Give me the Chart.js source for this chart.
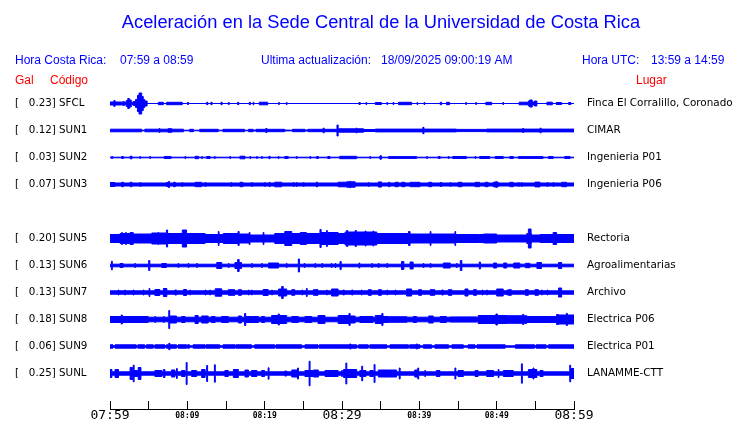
<!DOCTYPE html>
<html><head><meta charset="utf-8">
<script src="https://cdn.jsdelivr.net/npm/chart.js@4.4.1/dist/chart.umd.min.js"></script>
<style>html,body{margin:0;padding:0;background:#fff}canvas{display:block}</style>
</head><body><canvas id="c" width="740" height="423"></canvas>
<script>
// ---------- data ----------
const stations = ['SFCL','SUN1','SUN2','SUN3','SUN4','SUN5','SUN6','SUN7','SUN8','SUN9','SUNL'];
const peakGal  = ['0.23','0.12','0.03','0.07',null,'0.20','0.13','0.13','0.18','0.06','0.25'];
const places   = ['Finca El Corralillo, Coronado','CIMAR','Ingenieria P01','Ingenieria P06',null,
                  'Rectoria','Agroalimentarias','Archivo','Electrica P06','Electrica P01','LANAMME-CTT'];
const timeLabels = ['07:59','08:09','08:19','08:29','08:39','08:49','08:59']; // every 10 min
const headerTexts = {
  title: 'Aceleración en la Sede Central de la Universidad de Costa Rica',
  crLabel: 'Hora Costa Rica:', crRange: '07:59 a 08:59',
  updLabel: 'Ultima actualización:', updValue: '18/09/2025 09:00:19 AM',
  utcLabel: 'Hora UTC:', utcRange: '13:59 a 14:59',
  gal: 'Gal', code: 'Código', place: 'Lugar'
};

// Envelope of each trace: [minute from 07:59, half-amplitude], each value holds until the next minute mark.
const trSFCL = [[0,1.5],[0.5,3],[0.65,1.5],[1.5,0.8],[1.6,1.8],[1.9,1.2],[2.1,3],[2.3,5],[2.5,3.5],[2.75,1.2],[3.0,2],[3.3,4],[3.55,8],[3.75,10.5],[4.1,7],[4.3,4],[4.5,2.5],[4.8,0],
  [6.25,1.2],[6.9,0],[7.3,1.2],[9.35,0],[10.0,1],[10.15,0],[12.5,1.2],[12.65,0],[13.05,1.2],[13.2,0],[14.35,1.2],[14.5,0],[15.3,1],[15.42,0],[16.5,1.2],[16.65,0],
  [18.0,1.2],[18.15,0],[18.5,1.2],[18.6,0],[19.3,1.3],[20.4,0],[21.8,1],[21.9,0],[22.8,1],[22.9,0],
  [32.2,1],[32.35,0],[33.1,1],[33.2,0],[34.3,1],[35.1,0],[35.8,1],[35.9,0],[36.6,1],[36.7,0],[37.3,1.2],[39.0,0],[39.7,1],[39.8,0],[40.6,1],[40.7,0],
  [42.7,1.2],[42.9,0],[43.5,1.2],[43.9,0],[46.0,1],[46.1,0],[47.3,1],[47.4,0],[48.6,1.2],[49.35,0],[50.8,1],[50.9,0],[52.9,1.3],[54.1,2.5],[54.25,3.5],[54.6,1.5],[54.9,2.5],[55.2,0],
  [56.5,1.3],[57.2,0],[57.7,1],[58.4,0],[59.3,1],[59.6,0],[60,0]];
const trSUN1 = [[0,1.3],[4.1,0.3],[4.5,1.3],[6.35,2],[6.45,1.3],[7.5,1.8],[8.0,1.3],[9.5,0.3],[10.3,1.2],[10.8,0.3],[11.6,1.2],[14.0,0.3],[14.6,1.2],[17.4,0.3],[17.9,1.2],[18.5,0.5],[18.9,1.2],
  [20.15,2],[20.3,1.2],[22.6,0.4],[23.6,1.2],[25.2,0.5],[25.6,1.2],[27.55,2.3],[27.7,1.2],[29.35,5.5],[29.5,1.7],[31.8,2.3],[31.95,1.7],[32.8,1],[34.3,1.4],[40.45,3.2],[40.6,1.4],
  [44.8,1.1],[48.7,1.4],[53.35,2],[53.5,1.4],[55.6,2.3],[55.75,1.4],[60,1.4]];
const trSUN2 = [[0,0.3],[0.2,1],[0.35,0.3],[1.5,1],[1.75,0.3],[2.6,1.3],[2.85,0.3],[3.85,1],[3.95,0.3],[5.15,1],[5.25,0.3],[7.0,1],[7.9,0.3],[9.7,1],[9.8,0.3],[11.0,1.2],[11.45,0.3],
  [11.85,1],[11.95,0.3],[12.5,1],[12.95,0.3],[13.5,1],[13.6,0.3],[15.5,1],[15.6,0.3],[16.8,1.3],[17.45,0.3],[18.1,1],[18.2,0.3],[18.95,1],[19.05,0.3],[19.6,1],[19.7,0.3],
  [20.55,1.2],[20.7,0.3],[21.75,1],[21.85,0.3],[22.6,1],[23.05,0.3],[24.1,1],[24.2,0.3],[25.85,1],[25.95,0.3],[26.7,1],[26.95,0.3],[28.15,1],[28.45,0.3],[29.7,1.2],[31.9,0.3],
  [33.6,1],[33.7,0.3],[34.9,1.7],[35.1,0.3],[36.0,0.9],[39.65,0.3],[40.95,1],[41.05,0.3],[42.45,1],[42.7,0.3],[43.75,1],[43.85,0.3],[44.3,1],[46.1,0.3],[47.2,1],[47.3,0.3],
  [47.8,1],[49.1,0.3],[49.8,1],[50.85,0.3],[51.7,1],[52.15,0.3],[52.8,0.9],[56.0,0.3],[56.7,1],[57.3,0.3],[58.8,1],[59.5,0.3],[60,0.3]];
const trSUN3 = [[0,2],[0.65,1.5],[1.5,2.2],[1.75,1.5],[2.6,2.2],[2.85,1.5],[3.9,2],[4.0,1.5],[7.3,2],[7.55,3],[7.7,1.5],[8.2,2.2],[8.45,1.5],[9.3,2],[9.4,1.5],[11.0,2.2],[11.85,1.5],
  [12.3,2],[12.4,1.5],[15.65,2],[15.75,1.5],[16.8,2.2],[17.2,1.5],[18.3,2],[18.4,1.5],[20.0,2],[20.1,1.5],[20.6,2.2],[20.7,1.5],[21.3,2.3],[22.2,1.5],[23.7,2],[23.8,1.5],
  [24.1,2],[24.2,1.5],[25.0,2],[25.1,1.5],[26.7,2.5],[26.8,1.5],[29.5,2.3],[30.6,2.7],[31.0,3.3],[31.1,2.7],[31.7,1.5],[33.4,2],[33.5,1.5],[34.7,2.6],[35.1,1.5],[36.0,2.2],
  [36.2,1.5],[36.85,2.2],[37.3,1.5],[37.7,2.2],[38.15,1.5],[38.8,2.2],[40.1,1.5],[41.2,2.2],[41.6,1.5],[42.7,2],[42.9,1.5],[44.0,2],[44.1,1.5],[45.0,2.2],[45.5,1.5],
  [47.2,2.2],[47.8,1.5],[48.5,2.2],[48.9,1.5],[49.6,2.4],[49.9,3],[50.0,2.4],[50.2,1.5],[51.7,2.2],[52.15,1.5],[52.8,2],[52.9,1.5],[53.2,2],[53.3,1.5],[54.95,2.4],[55.6,1.5],
  [56.5,2],[56.6,1.5],[57.3,2],[57.4,1.5],[58.4,2.2],[59.05,1.5],[60,1.5]];
const trSUN5 = [[0,4],[1.3,5],[1.5,6],[1.6,5],[2.0,6],[2.1,5],[2.6,6],[3.0,4.5],[5.4,5.5],[6.2,6],[6.3,5.5],[7.3,8.5],[7.45,5],[9.35,8.5],[9.9,5],[12.3,4],[14.0,7],[14.1,4],
  [14.65,5],[16.55,7],[16.7,4.5],[18.0,6],[18.1,3.5],[19.8,6],[19.9,3.5],[21.3,5],[22.6,7],[23.5,5],[24.6,6],[25.4,5],[27.15,9],[27.3,6],[28.0,8],[28.1,6],[29.5,5],
  [30.4,6.5],[30.6,8],[30.75,6.5],[31.7,8],[31.85,6.5],[33.0,7.5],[33.1,6.5],[34.0,7.5],[34.1,6.5],[34.5,5],[38.6,7],[38.8,4.5],[41.4,7],[41.5,4.5],[44.6,7],[44.7,4],
  [47.8,4],[48.3,4.5],[50.0,3.5],[53.9,5],[54.1,9.5],[54.45,5],[54.5,3.5],[55.6,4],[57.3,6],[57.75,4],[60,4]];
const trSUN6 = [[0,1.3],[0.2,4.3],[0.3,1.3],[1.3,2],[1.7,1.3],[3.2,2],[3.3,1.3],[5.0,5],[5.15,1.3],[6.7,2],[7.3,1.3],[8.8,2],[8.9,1.3],[10.1,2],[10.2,1.3],[11.2,2],[11.3,1.3],
  [13.8,3],[14.45,1.3],[15.3,2],[15.4,1.3],[16.15,3],[16.5,6],[16.7,3],[17.0,1.3],[18.3,2],[18.4,1.3],[19.6,2],[19.7,1.3],[20.5,2.5],[21.8,1.3],[22.8,2],[22.9,1.3],
  [24.35,6.5],[24.5,1.3],[25.1,2],[25.2,1.3],[26.5,2],[26.6,1.3],[27.4,2],[27.5,1.3],[28.6,2],[28.7,1.3],[29.1,2],[29.2,1.3],[29.74,4],[29.9,1.3],[32.2,2.5],[32.3,1.3],
  [33.85,2],[33.95,1.3],[34.7,2],[34.8,1.3],[35.8,2],[35.9,1.3],[37.7,4],[38.0,1.3],[38.8,3.5],[39.2,1.3],[40.5,2],[40.6,1.3],[41.4,2],[41.5,1.3],[43.1,2.5],[44.0,1.3],
  [44.8,2],[44.9,1.3],[45.3,5],[45.5,1.3],[47.75,3.5],[47.9,1.3],[49.6,2.5],[50.0,1.3],[50.9,2.5],[51.3,1.3],[52.2,2.5],[53.0,1.3],[53.7,2.2],[54.3,1.3],[55.2,3],[55.8,1.3],
  [58.0,3],[58.4,1.3],[60,1.3]];
const trSUN7 = [[0,1.7],[1.05,2.5],[1.15,1.7],[1.9,2.5],[2.0,1.7],[3.0,2.5],[3.1,1.7],[4.3,2.5],[4.4,1.7],[5.05,4],[5.15,1.7],[5.8,3],[6.45,1.7],[6.9,4],[7.35,1.7],[8.4,2.5],[8.6,1.7],
  [9.5,3],[9.9,1.7],[10.3,2.5],[10.4,1.7],[12.3,2.5],[12.4,1.7],[12.9,2.5],[13.0,1.7],[13.6,3.7],[14.45,1.7],[15.3,2.8],[16.15,1.7],[16.6,2.8],[17.0,1.7],[17.9,2.5],[18.0,1.7],
  [18.3,2.5],[18.4,1.7],[19.8,3],[20.45,1.7],[20.9,2.5],[21.0,1.7],[21.8,3.5],[22.2,6],[22.4,3.5],[22.85,1.7],[23.5,2.8],[23.9,1.7],[24.8,2.5],[24.9,1.7],[25.4,4],[25.5,1.7],
  [26.3,2.8],[26.9,1.7],[28.0,2.5],[28.1,1.7],[28.65,3.5],[29.5,1.7],[30.15,2.5],[30.3,1.7],[31.25,2.5],[31.4,1.7],[32.5,2.5],[32.6,1.7],[33.4,2.8],[33.8,1.7],[34.7,2.8],
  [35.1,1.7],[35.8,2.5],[35.9,1.7],[36.85,2.5],[36.95,1.7],[38.35,3.5],[39.0,1.7],[39.9,2.8],[40.3,1.7],[41.4,2.8],[42.0,1.7],[42.9,2.5],[43.1,1.7],[43.75,2.8],[44.2,1.7],
  [45.9,3.5],[46.3,1.7],[47.0,2.8],[47.4,1.7],[48.1,2.5],[48.2,1.7],[48.7,2.5],[48.8,1.7],[50.0,3.5],[50.85,1.7],[51.3,2.5],[51.4,1.7],[51.5,2.8],[51.9,1.7],[53.7,2.8],
  [54.1,1.7],[54.95,2.8],[55.4,1.7],[55.8,2.5],[55.9,1.7],[56.5,2.5],[56.6,1.7],[58.0,4.5],[58.4,1.7],[60,1.7]];
const trSUN8 = [[0,3],[1.45,4.5],[1.6,3],[4.95,2.3],[5.8,3],[5.9,2.3],[6.9,3],[7.0,2.3],[7.6,9],[7.72,3.5],[8.6,2.3],[9.25,3],[9.7,2.3],[11.0,4],[11.4,2.3],[11.85,3.5],[12.7,2.3],
  [13.1,3],[13.6,2.3],[14.4,3],[15.3,2.3],[16.6,3.5],[17.0,2.3],[17.4,6],[17.55,3],[18.3,3],[19.2,2.3],[19.6,3],[20.0,2.3],[20.9,4],[21.75,5.5],[21.9,4],[22.85,2.3],
  [23.5,3],[24.35,2.3],[25.2,3],[26.1,2.3],[26.9,4],[27.8,2.3],[29.5,4],[30.9,6],[31.05,3.5],[31.7,2.3],[32.3,3],[34.0,2.3],[34.3,4],[35.15,6],[35.3,3],[36.0,2.8],
  [38.4,2.3],[39.2,3],[39.65,2.3],[41.2,3.5],[41.8,2.3],[42.7,3],[43.5,2.3],[44.0,2.6],[47.4,2.3],[47.6,4],[49.9,5.5],[50.1,4],[51.3,3.8],[53.35,5],[53.5,3.8],[53.9,3],
  [57.75,5],[58.0,4.5],[59.0,6],[59.15,4.5],[60,4.5]];
const trSUN9 = [[0,1.7],[0.4,0.7],[0.65,1.7],[3.4,0.7],[3.6,1.7],[4.5,0.7],[4.7,1.7],[5.6,0.7],[5.8,1.7],[7.1,0.7],[7.3,1.7],[7.6,3.2],[7.75,1.7],[8.6,0.7],[8.8,1.7],[9.9,0.7],
  [10.0,1.7],[10.3,0.7],[10.75,1.7],[12.3,0.7],[12.4,1.7],[14.2,0.7],[14.6,1.7],[16.2,0.7],[16.3,1.7],[18.3,0.7],[18.7,1.7],[21.3,0.7],[21.45,1.7],[24.8,0.7],[25.2,1.7],
  [26.9,0.7],[27.05,1.7],[31.0,2.5],[31.15,1.7],[31.9,0.7],[32.15,1.7],[33.4,0.7],[33.6,1.7],[35.8,0.7],[36.2,1.7],[38.6,0.7],[38.75,1.7],[39.6,2.5],[39.75,1.7],[40.1,0.7],
  [40.5,1.7],[41.6,0.7],[42.0,1.7],[43.8,0.7],[44.2,1.7],[45.7,0.7],[46.3,1.7],[47.2,0.7],[47.45,1.7],[51.1,0.7],[52.4,1.7],[54.9,0.7],[55.1,1.7],[56.4,0.7],[56.7,1.7],[60,1.7]];
const trSUNL = [[0,4],[0.25,1.7],[0.65,4],[1.1,1.7],[2.6,6],[2.9,3],[3.0,8.3],[3.12,3],[3.65,6],[4.0,1.7],[5.8,3],[6.7,1.7],[6.9,4],[7.1,1.7],[7.95,3.5],[8.4,1.7],[8.6,5],[8.7,1.7],
  [9.25,3],[9.7,1.7],[9.85,11],[9.97,1.7],[10.55,3],[11.2,1.7],[11.85,4],[12.3,1.7],[12.5,8],[12.62,1.7],[13.5,8.7],[13.62,1.7],[14.85,3],[15.3,1.7],[15.95,4],[16.6,1.7],
  [17.45,3.5],[17.9,1.7],[18.3,3],[19.0,1.7],[19.6,3],[20.0,1.7],[20.45,5.7],[20.57,1.7],[22.6,2.5],[22.85,1.7],[23.5,3.5],[24.25,5.5],[24.37,1.7],[25.2,3],[25.75,12.3],
  [25.87,3],[26.3,3.5],[26.95,1.7],[27.8,3],[29.5,1.7],[29.95,3],[30.05,1.7],[30.2,4],[30.5,10.5],[30.62,4],[31.9,1.7],[32.3,3],[32.55,7.3],[32.67,3],[33.1,1.7],[33.6,3],
  [34.05,1.7],[34.15,9],[34.27,1.7],[34.7,3.5],[37.05,1.7],[37.4,5.5],[37.52,1.7],[39.4,3.5],[39.8,5.5],[39.92,1.7],[40.7,3],[40.8,1.7],[42.2,3],[42.67,1.7],[44.6,5.5],
  [44.72,1.7],[45.0,3],[45.7,1.7],[47.2,3],[47.6,1.7],[48.7,3],[49.6,1.7],[50.2,4],[50.3,1.7],[50.86,3],[52.15,1.7],[53.2,9.7],[53.32,1.7],[54.1,4],[54.7,5.5],[54.82,4],
  [55.2,1.7],[55.6,3],[56.0,1.7],[59.45,8.3],[59.57,5],[60,5]];
const traces = [trSFCL, trSUN1, trSUN2, trSUN3, null, trSUN5, trSUN6, trSUN7, trSUN8, trSUN9, trSUNL];

// ---------- chart ----------
const BLUE = '#0000ff';
const ROW = 27;
const datasets = [];
const rowValues = [];
stations.forEach((code, i) => {
  const tr = traces[i];
  if (!tr) return;
  const c = i * ROW;
  rowValues.push(c);
  const common = {stepped: true, borderColor: BLUE, backgroundColor: BLUE, borderWidth: 1, pointRadius: 0, yAxisID: 'y'};
  datasets.push(Object.assign({label: code + '+', data: tr.map(([m, a]) => ({x: m, y: c - a})), fill: '+1'}, common));
  datasets.push(Object.assign({label: code + '-', data: tr.map(([m, a]) => ({x: m, y: c + a})), fill: false}, common));
});
const rowIndex = v => Math.round(v / ROW);

const headerPlugin = {
  id: 'header',
  afterDraw(chart) {
    const ctx = chart.ctx;
    ctx.save();
    ctx.textBaseline = 'middle';
    ctx.fillStyle = BLUE;
    ctx.font = '18.3px "Liberation Sans", Arial, sans-serif';
    ctx.textAlign = 'center';
    ctx.fillText(headerTexts.title, 381, 22.5);
    ctx.textAlign = 'left';
    ctx.font = '12px "Liberation Sans", Arial, sans-serif';
    ctx.fillText(headerTexts.crLabel, 15, 60.5);
    ctx.fillText(headerTexts.crRange, 120, 60.5);
    ctx.fillText(headerTexts.updLabel, 261, 60.5);
    ctx.fillText(headerTexts.updValue, 381, 60.5);
    ctx.fillText(headerTexts.utcLabel, 582, 60.5);
    ctx.fillText(headerTexts.utcRange, 651, 60.5);
    ctx.fillStyle = '#ff0000';
    ctx.fillText(headerTexts.gal, 15, 80.5);
    ctx.fillText(headerTexts.code, 50, 80.5);
    ctx.fillText(headerTexts.place, 636, 80.5);
    // time-axis baseline under the upward tick marks
    const s = chart.scales.x;
    const y = Math.round(s.top + s.options.grid.tickLength) - 0.5;
    ctx.strokeStyle = '#000';
    ctx.lineWidth = 1;
    ctx.beginPath();
    ctx.moveTo(s.left, y);
    ctx.lineTo(s.right + 1, y);
    ctx.stroke();
    ctx.restore();
  }
};

new Chart(document.getElementById('c'), {
  type: 'line',
  data: {datasets},
  plugins: [headerPlugin],
  options: {
    responsive: false, animation: false, devicePixelRatio: 1,
    layout: {padding: {left: 15, right: 0, top: 76.5, bottom: 0}},
    plugins: {legend: {display: false}, tooltip: {enabled: false}, title: {display: false}},
    scales: {
      x: {
        type: 'linear', min: 0, max: 60, position: 'bottom',
        afterFit(s) { s.height = 22.5; },
        grid: {display: true, drawOnChartArea: false, drawTicks: true, tickLength: 9, color: '#000', lineWidth: 1},
        border: {display: false},
        ticks: {
          stepSize: 5, autoSkip: false, maxRotation: 0, minRotation: 0, padding: 0, color: '#000',
          callback: v => (v % 10 === 0 ? timeLabels[v / 10] : ''),
          font: ctx => {
            const v = ctx.tick ? ctx.tick.value : 0;
            return v % 30 === 0
              ? {family: '"DejaVu Sans Mono"', size: 13, lineHeight: 1}
              : {family: '"DejaVu Sans Mono"', size: 8, weight: 'bold', lineHeight: 1.625};
          }
        }
      },
      y: {
        type: 'linear', position: 'left', reverse: true, min: -ROW, max: 11 * ROW,
        afterFit(s) { s.width = 95; },
        afterBuildTicks(s) { s.ticks = rowValues.map(v => ({value: v})); },
        grid: {display: false, drawTicks: false},
        border: {display: false},
        ticks: {
          autoSkip: false, crossAlign: 'far', color: '#000',
          font: {family: '"DejaVu Sans"', size: 10.3},
          callback: v => { const i = rowIndex(v); return peakGal[i] ? '[   ' + peakGal[i] + '] ' + stations[i] : ''; }
        }
      },
      y2: {
        type: 'linear', position: 'right', reverse: true, min: -ROW, max: 11 * ROW,
        afterFit(s) { s.width = 166; },
        afterBuildTicks(s) { s.ticks = rowValues.map(v => ({value: v})); },
        grid: {display: false, drawTicks: false},
        border: {display: false},
        ticks: {
          autoSkip: false, crossAlign: 'near', padding: 13, color: '#000',
          font: {family: '"DejaVu Sans"', size: 10.4},
          callback: v => places[rowIndex(v)] || ''
        }
      }
    }
  }
});
</script></body></html>
